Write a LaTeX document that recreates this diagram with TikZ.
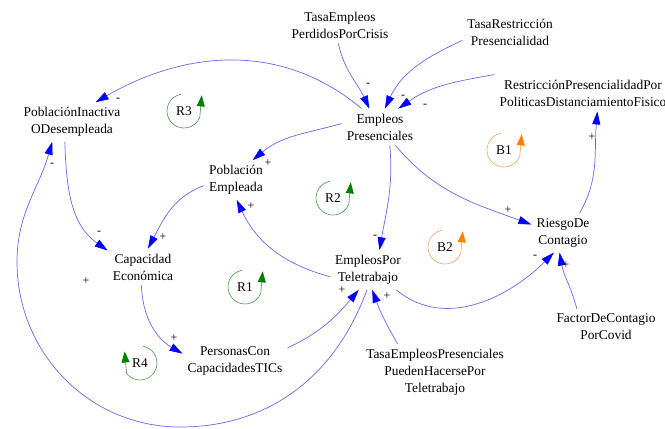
\documentclass[tikz,border=0pt]{standalone}
\usepackage{fontspec}
\setmainfont{Liberation Serif}
\usetikzlibrary{arrows.meta}
\definecolor{linkblue}{RGB}{105,105,235}
\definecolor{tipblue}{RGB}{0,0,255}
\definecolor{loopgreen}{RGB}{70,150,70}
\definecolor{tipgreen}{RGB}{0,128,0}
\definecolor{looporange}{RGB}{245,165,90}
\definecolor{tiporange}{RGB}{255,128,0}

\begin{document}
\begin{tikzpicture}[x=1pt,y=1pt,
	var/.style={align=center, inner sep=5pt, font=\fontsize{13.4}{17}\selectfont},
	link/.style={draw=linkblue, line width=0.7pt, -{Triangle[length=13pt,width=8pt,color=tipblue]}},
	sgn/.style={inner sep=0pt, font=\fontsize{12}{12}\selectfont},
	lbl/.style={inner sep=0pt, font=\fontsize{13.4}{17}\selectfont},
	rloop/.style={draw=loopgreen, line width=0.6pt, -{Triangle[length=11pt,width=8pt,color=tipgreen]}},
	bloop/.style={draw=looporange, line width=0.6pt, -{Triangle[length=11pt,width=8pt,color=tiporange]}}]
				\useasboundingbox (0,0) rectangle (665,-429);
				\node[var] (TEPC) at (340,-25) {TasaEmpleos\\PerdidosPorCrisis};
				\node[var] (TRP) at (510,-32) {TasaRestricción\\Presencialidad};
				\node[var] (RPD) at (583,-93) {RestricciónPresencialidadPor\\PoliticasDistanciamientoFisico};
				\node[var] (EP) at (380,-127) {Empleos\\Presenciales};
				\node[var] (PIO) at (72,-122) {PoblaciónInactiva\\ODesempleada};
				\node[var] (PE) at (236,-180) {Población\\Empleada};
				\node[var] (CE) at (143,-267) {Capacidad\\Económica};
				\node[var] (PCT) at (235,-361) {PersonasCon\\CapacidadesTICs};
				\node[var] (ET) at (368,-270) {EmpleosPor\\Teletrabajo};
				\node[var] (RC) at (563,-233) {RiesgoDe\\Contagio};
				\node[var] (FC) at (606,-327) {FactorDeContagio\\PorCovid};
				\node[var] (TEPP) at (435,-372) {TasaEmpleosPresenciales\\PuedenHacersePor\\Teletrabajo};
				\coordinate (bot) at (180,-427);
				\coordinate (lft) at (17,-262);
				\draw[link] (TEPC.-95) to[out=-78,in=115] (EP.120);
				\draw[link] (TRP.190) to[out=205,in=65] (EP.75);
				\draw[link] (RPD.north west) to[out=190,in=35] (EP.45);
				\draw[link] (EP.135) to[out=140,in=30] (PIO.40);
				\draw[link] (EP.175) to[out=195,in=40] (PE.50);
				\draw[link] (EP.-62) to[out=-85,in=80] (ET.60);
				\draw[link] (EP.-50) to[out=-50,in=160] (RC.165);
				\draw[link] (RC.50) to[out=60,in=-95] (RPD.-52);
				\draw[link] (ET.-35) to[out=-40,in=-135] (RC.-115);
				\draw[link] (FC.148) to[out=105,in=-80] (RC.-100);
				\draw[link] (TEPP.143) to[out=120,in=-70] (ET.-78);
				\draw[link] (PCT.14) to[out=25,in=-130] (ET.-115);
				\draw[link] (ET.-93) to[out=-110,in=0] (bot) to[out=180,in=-90] (lft) to[out=90,in=-106] (PIO.-135);
				\draw[link] (PIO.-110) to[out=-88,in=145] (CE.155);
				\draw[link] (PE.190) to[out=200,in=62] (CE.75);
				\draw[link] (ET.190) to[out=165,in=-65] (PE.-88);
				\draw[link] (CE.-95) to[out=-88,in=150] (PCT.172);
				\node[sgn] (s1) at (368,-85) {-};
				\node[sgn] (s2) at (403,-97) {-};
				\node[sgn] (s3) at (425,-106) {-};
				\node[sgn] (s4) at (118,-100) {-};
				\node[sgn] (s5) at (268,-163) {+};
				\node[sgn] (s6) at (375,-237) {-};
				\node[sgn] (s7) at (508,-210) {+};
				\node[sgn] (s8) at (592,-137) {+};
				\node[sgn] (s9) at (535,-257) {-};
				\node[sgn] (s10) at (566,-265) {+};
				\node[sgn] (s11) at (387,-296) {+};
				\node[sgn] (s12) at (342,-290) {+};
				\node[sgn] (s13) at (52,-165) {-};
				\node[sgn] (s14) at (99,-233) {-};
				\node[sgn] (s15) at (163,-237) {+};
				\node[sgn] (s16) at (251,-206) {+};
				\node[sgn] (s17) at (174,-338) {+};
				\node[sgn] (s18) at (86,-281) {+};
				\node[lbl] (R3) at (184,-111) {R3};
				\node[lbl] (R2) at (333,-198) {R2};
				\node[lbl] (R1) at (245,-287) {R1};
				\node[lbl] (R4) at (140,-363) {R4};
				\node[lbl] (B1) at (504,-150) {B1};
				\node[lbl] (B2) at (445,-247) {B2};
				\draw[rloop] (R3.center) ++(100:17) arc[start angle=100,end angle=338,radius=17] -- ++(2,22);
				\draw[rloop] (R2.center) ++(100:17) arc[start angle=100,end angle=338,radius=17] -- ++(2,22);
				\draw[rloop] (R1.center) ++(100:17) arc[start angle=100,end angle=338,radius=17] -- ++(2,22);
				\draw[bloop] (B1.center) ++(100:17) arc[start angle=100,end angle=338,radius=17] -- ++(2,22);
				\draw[bloop] (B2.center) ++(100:17) arc[start angle=100,end angle=338,radius=17] -- ++(2,22);
				\draw[rloop] (R4.center) ++(80:17) arc[start angle=80,end angle=-142,radius=17] -- ++(-2,22);
			\end{tikzpicture}
\end{document}
